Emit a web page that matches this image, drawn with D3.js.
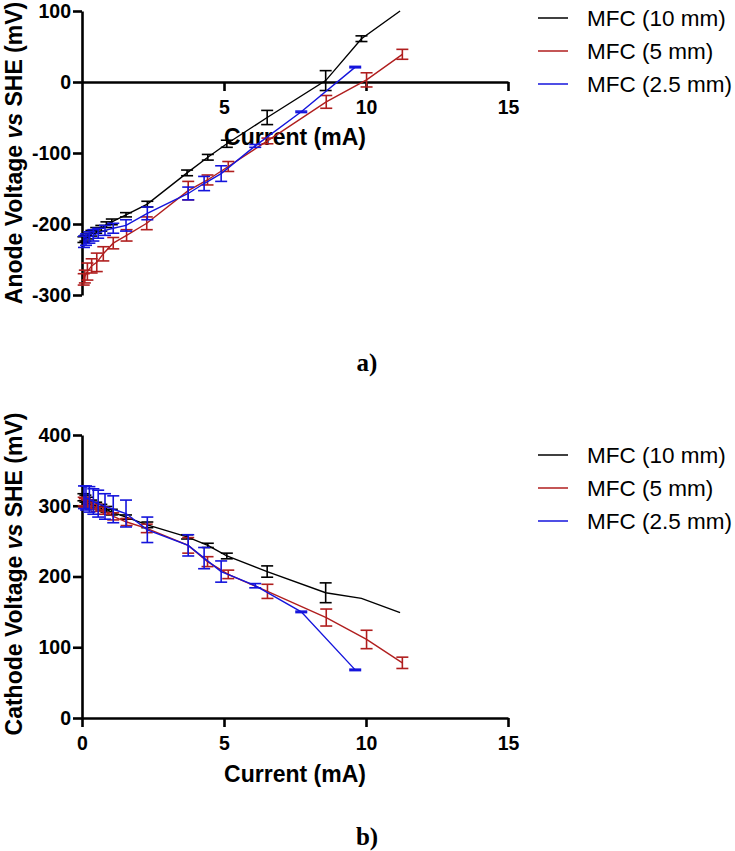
<!DOCTYPE html>
<html><head><meta charset="utf-8">
<script src="https://cdn.jsdelivr.net/npm/d3@7/dist/d3.min.js"></script>
<style>
body{margin:0;background:#fff;}
svg{display:block;}
</style></head>
<body>
<svg id="c" width="735" height="851"></svg>
<script>
// ---- data ----
const seriesNames = ["MFC (10 mm)", "MFC (5 mm)", "MFC (2.5 mm)"];
const seriesColors = ["#000000", "#b01e1e", "#1414dc"];

// MFC (10 mm)
const x10 = [0.05,0.12,0.21,0.33,0.5,0.68,0.86,1.05,1.55,2.3,3.7,4.43,5.1,6.52,8.58,9.84,11.2];
const anode10 = [-222,-220,-217,-213,-209,-206,-201,-197,-187,-172,-128,-106,-87,-50,2,61,100];
const anodeErr10 = [4,4,4,4,4,4,4,4,3,4,4,4,5,10,14,4,0];
const cathode10 = [312,310,307,304,301,298,295,291,284,273,256,244,229,207,177,169,149];
const cathodeErr10 = [5,5,5,4,4,4,4,4,3,4,3,3,4,8,14,0,0];

// MFC (5 mm)
const x5 = [0.06,0.1,0.19,0.34,0.52,0.75,1.1,1.57,2.28,3.74,4.42,5.15,6.53,8.6,10.02,11.28];
const anode5 = [-278,-274,-267,-259,-254,-242,-227,-216,-199,-153,-138,-119,-83,-28,3,39];
const anodeErr5 = [8,9,12,10,13,10,8,8,9,13,7,7,4,9,10,7];
const cathode5 = [306,304,302,300,297,293,285,277,268,244,221,203,179,142,111,78];
const cathodeErr5 = [6,6,6,5,5,5,5,5,6,11,7,6,10,12,13,8];

// MFC (2.5 mm)
const x25 = [0.07,0.14,0.26,0.4,0.57,0.81,1.1,1.55,2.3,3.74,4.3,4.9,6.1,7.72,9.62];
const anode25 = [-225,-222,-219,-216,-213,-209,-206,-202,-185,-157,-143,-129,-90,-42,21];
const anodeErr25 = [8,8,8,8,7,7,7,8,9,9,10,11,2,1,1];
const cathode25 = [312,311,309,306,303,299,295,289,266,244,226,207,187,150,68];
const cathodeErr25 = [16,17,18,18,19,18,19,19,18,15,15,15,3,1,1];

const xTicksTop = [5,10,15];
const xTicksBottom = [0,5,10,15];
const yTicksTop = [-300,-200,-100,0,100];
const yTicksBottom = [0,100,200,300,400];

// ---- build ----
const svg = d3.select("#c");
const FONT = "Arial, 'Liberation Sans', sans-serif";
const x = d3.scaleLinear().domain([0,15]).range([82,508]);

function mk(xs, ys, es){ return xs.map((v,i)=>({x:v,y:ys[i],e:es[i]})); }

const panels = [
  { y: d3.scaleLinear().domain([-300,100]).range([295,11]), xAxisAt:0, xTicks:xTicksTop, yTicks:yTicksTop,
    title:["Anode Voltage ","vs"," SHE (mV)"], titleY:153, label:"a)", labelY:362, legendY:18,
    series:[mk(x10,anode10,anodeErr10), mk(x5,anode5,anodeErr5), mk(x25,anode25,anodeErr25)], xTitleY:137 },
  { y: d3.scaleLinear().domain([0,400]).range([718,435]), xAxisAt:0, xTicks:xTicksBottom, yTicks:yTicksBottom,
    title:["Cathode Voltage ","vs"," SHE (mV)"], titleY:574, label:"b)", labelY:836, legendY:455,
    series:[mk(x10,cathode10,cathodeErr10), mk(x5,cathode5,cathodeErr5), mk(x25,cathode25,cathodeErr25)], xTitleY:774 }
];

panels.forEach(p => {
  const g = svg.append("g");
  const xa = g.append("g").attr("transform", `translate(0,${p.y(p.xAxisAt)})`)
    .call(d3.axisBottom(x).tickValues(p.xTicks).tickSize(9).tickSizeOuter(0).tickPadding(9).tickFormat(d3.format("d")));
  const ya = g.append("g").attr("transform", `translate(${x(0)},0)`)
    .call(d3.axisLeft(p.y).tickValues(p.yTicks).tickSize(9).tickSizeOuter(0).tickPadding(2).tickFormat(d3.format("d")));
  [xa, ya].forEach(a => {
    a.select(".domain").attr("stroke","#000").attr("stroke-width",2.6);
    a.selectAll(".tick line").attr("stroke","#000").attr("stroke-width",2.6);
    a.selectAll(".tick text").attr("fill","#000").style("font-family",FONT).style("font-weight","bold").style("font-size","19.5px");
  });
  ya.selectAll(".tick text").text(d => d < 0 ? "-" + Math.abs(d) : d);

  g.append("text").attr("x", 295).attr("y", p.xTitleY).attr("text-anchor","middle").attr("dominant-baseline","central")
    .style("font-family",FONT).style("font-weight","bold").style("font-size","23px").text("Current (mA)");
  const yt = g.append("text").attr("transform", `translate(14,${p.titleY}) rotate(-90)`).attr("text-anchor","middle")
    .attr("dominant-baseline","central").style("font-family",FONT).style("font-weight","bold").style("font-size","23px");
  yt.append("tspan").text(p.title[0]);
  yt.append("tspan").style("font-style","italic").text(p.title[1]);
  yt.append("tspan").text(p.title[2]);

  const line = d3.line().x(d => x(d.x)).y(d => p.y(d.y));
  p.series.forEach((s, i) => {
    const c = seriesColors[i];
    const sg = g.append("g");
    sg.append("path").datum(s).attr("d", line).attr("fill","none").attr("stroke",c).attr("stroke-width",1.4);
    const eb = sg.selectAll("g.eb").data(s.filter(d => d.e > 0)).join("g");
    eb.append("line").attr("x1",d=>x(d.x)).attr("x2",d=>x(d.x)).attr("y1",d=>p.y(d.y-d.e)).attr("y2",d=>p.y(d.y+d.e))
      .attr("stroke",c).attr("stroke-width",1.6);
    eb.append("line").attr("x1",d=>x(d.x)-6).attr("x2",d=>x(d.x)+6).attr("y1",d=>p.y(d.y+d.e)).attr("y2",d=>p.y(d.y+d.e))
      .attr("stroke",c).attr("stroke-width",1.6);
    eb.append("line").attr("x1",d=>x(d.x)-6).attr("x2",d=>x(d.x)+6).attr("y1",d=>p.y(d.y-d.e)).attr("y2",d=>p.y(d.y-d.e))
      .attr("stroke",c).attr("stroke-width",1.6);
  });

  seriesNames.forEach((n, i) => {
    const ly = p.legendY + i * 33;
    g.append("line").attr("x1",538).attr("x2",568).attr("y1",ly).attr("y2",ly).attr("stroke",seriesColors[i]).attr("stroke-width",1.5);
    g.append("text").attr("x",587).attr("y",ly).attr("dominant-baseline","central").style("font-family",FONT)
      .style("font-size","22.5px").attr("fill","#000").text(n);
  });

  g.append("text").attr("x",367).attr("y",p.labelY).attr("text-anchor","middle").attr("dominant-baseline","central")
    .style("font-family","'Liberation Serif', 'Times New Roman', serif").style("font-weight","bold").style("font-size","25px").text(p.label);
});
</script>
</body></html>
